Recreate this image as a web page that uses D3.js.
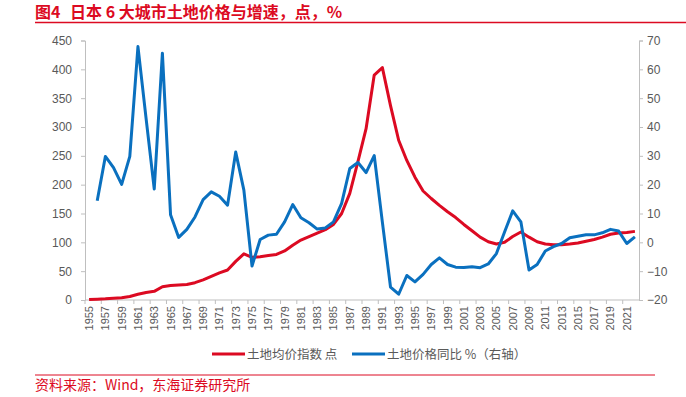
<!DOCTYPE html>
<html>
<head>
<meta charset="utf-8">
<script src="https://cdn.jsdelivr.net/npm/d3@7.9.0/dist/d3.min.js"></script>
<style>
  body { margin: 0; background: #fff; }
  svg { display: block; font-family: "Noto Sans CJK SC", "Noto Sans", sans-serif; }
</style>
</head>
<body>
<svg id="chart" width="686" height="397"></svg>
<script>
// years on the category axis
const years = d3.range(1955, 2023);

// land price index, points (left axis)
const priceIndex = [
  1, 1.5, 2, 3, 4, 6, 10, 13, 15, 23,
  25, 26, 27, 30, 35, 41, 47, 52, 67, 80,
  74, 75, 77, 79, 85, 95, 104, 110, 116, 122,
  131, 150, 185, 240, 297, 390, 403, 337, 277, 242,
  213, 189, 176, 164, 153, 143, 131, 120, 109, 101,
  97, 100, 110, 118, 109, 101, 97, 96, 96, 97,
  99, 102, 105, 109, 114, 116, 117, 119
];

// land price yoy, % (right axis), starts 1956
const priceYoy = [
  null, 14.4, 29.8, 25.9, 20.1, 29.8, 67.9, 42.9, 18.5, 65.6,
  9.6, 1.7, 4.5, 8.8, 14.8, 17.5, 16.0, 12.9, 31.3, 18.1,
  -8.2, 1.0, 2.5, 2.8, 7.1, 13.1, 8.5, 6.8, 4.6, 5.0,
  7.1, 13.5, 25.6, 27.7, 24.2, 30.1, 7.0, -15.5, -18.0, -11.5,
  -13.7, -11.1, -7.7, -5.4, -7.7, -8.6, -8.7, -8.5, -8.8, -7.5,
  -3.9, 3.6, 10.9, 7.1, -9.6, -7.7, -3.0, -1.5, -0.4, 1.6,
  2.1, 2.6, 2.6, 3.3, 4.5, 3.9, -0.4, 1.9
];

const leftTicks = d3.range(0, 451, 50);
const rightTicks = d3.range(-20, 71, 10);
const xLabels = years.filter(y => y % 2 === 1);

const red = '#dc0a22';
const blue = '#0a70bf';
const axisColor = '#bfbfbf';
const textColor = '#595959';

const svg = d3.select('#chart');

// plot frame
const plotL = 85, plotR = 639, plotT = 40.5, plotB = 300;

const x = d3.scaleBand().domain(years).range([plotL, plotR]);
const yL = d3.scaleLinear().domain([0, 450]).range([plotB, plotT]);
const yR = d3.scaleLinear().domain([-20, 70]).range([plotB, plotT]);

// title
const title = svg.append('text')
  .attr('y', 18)
  .attr('fill', red)
  .attr('font-size', 16)
  .attr('font-weight', 'bold');
title.append('tspan').attr('x', 35).text('图4');
title.append('tspan').attr('x', 70).text('日本 6 大城市土地价格与增速，点，%');
svg.append('line')
  .attr('x1', 35).attr('x2', 686)
  .attr('y1', 22.5).attr('y2', 22.5)
  .attr('stroke', red).attr('stroke-width', 1.5);

// left axis
const gL = svg.append('g')
  .attr('transform', `translate(${plotL},0)`)
  .call(d3.axisLeft(yL).tickValues(leftTicks).tickSize(4).tickPadding(9));
// right axis
const gR = svg.append('g')
  .attr('transform', `translate(${plotR},0)`)
  .call(d3.axisRight(yR).tickValues(rightTicks).tickSize(4).tickPadding(4));

[gL, gR].forEach(g => {
  g.select('.domain').attr('stroke', axisColor);
  g.selectAll('.tick line').attr('stroke', axisColor);
  g.selectAll('.tick text').attr('fill', textColor).attr('font-size', 12)
    .attr('font-family', 'Liberation Sans, Arial, sans-serif');
});

// bottom axis
const gB = svg.append('g').attr('transform', `translate(0,${plotB})`);
gB.append('line')
  .attr('x1', plotL).attr('x2', plotR)
  .attr('stroke', axisColor);
gB.selectAll('.xt')
  .data(xLabels)
  .join('line')
  .attr('x1', d => x(d)).attr('x2', d => x(d))
  .attr('y1', 0).attr('y2', 4)
  .attr('stroke', axisColor);
gB.selectAll('.xl')
  .data(xLabels)
  .join('text')
  .attr('transform', d => `translate(${x(d) + x.bandwidth() / 2 + 4},6) rotate(-90)`)
  .attr('text-anchor', 'end')
  .attr('fill', textColor)
  .attr('font-size', 11)
  .attr('font-family', 'Liberation Sans, Arial, sans-serif')
  .text(d => d);

const cx = d => x(d) + x.bandwidth() / 2;

// lines
const lineL = d3.line()
  .x((d, i) => cx(years[i]))
  .y(d => yL(d));
const lineR = d3.line()
  .defined(d => d !== null)
  .x((d, i) => cx(years[i]))
  .y(d => yR(d));

svg.append('path')
  .datum(priceIndex)
  .attr('d', lineL)
  .attr('fill', 'none')
  .attr('stroke', red)
  .attr('stroke-width', 3)
  .attr('stroke-linejoin', 'round');

svg.append('path')
  .datum(priceYoy)
  .attr('d', lineR)
  .attr('fill', 'none')
  .attr('stroke', blue)
  .attr('stroke-width', 3)
  .attr('stroke-linejoin', 'round');

// legend
const legend = [
  { label: '土地均价指数 点', color: red, x: 212 },
  { label: '土地价格同比 %（右轴）', color: blue, x: 352 }
];
const lg = svg.append('g').attr('transform', 'translate(0,354)');
legend.forEach(d => {
  lg.append('line')
    .attr('x1', d.x).attr('x2', d.x + 33)
    .attr('stroke', d.color).attr('stroke-width', 3);
  lg.append('text')
    .attr('x', d.x + 35).attr('y', 4.5)
    .attr('fill', textColor)
    .attr('font-size', 12.5)
    .text(d.label);
});

// source
svg.append('line')
  .attr('x1', 35).attr('x2', 655)
  .attr('y1', 375).attr('y2', 375)
  .attr('stroke', red).attr('stroke-width', 1);
svg.append('text')
  .attr('x', 35).attr('y', 390)
  .attr('fill', red)
  .attr('font-size', 14)
  .text('资料来源：Wind，东海证券研究所');
</script>
</body>
</html>
